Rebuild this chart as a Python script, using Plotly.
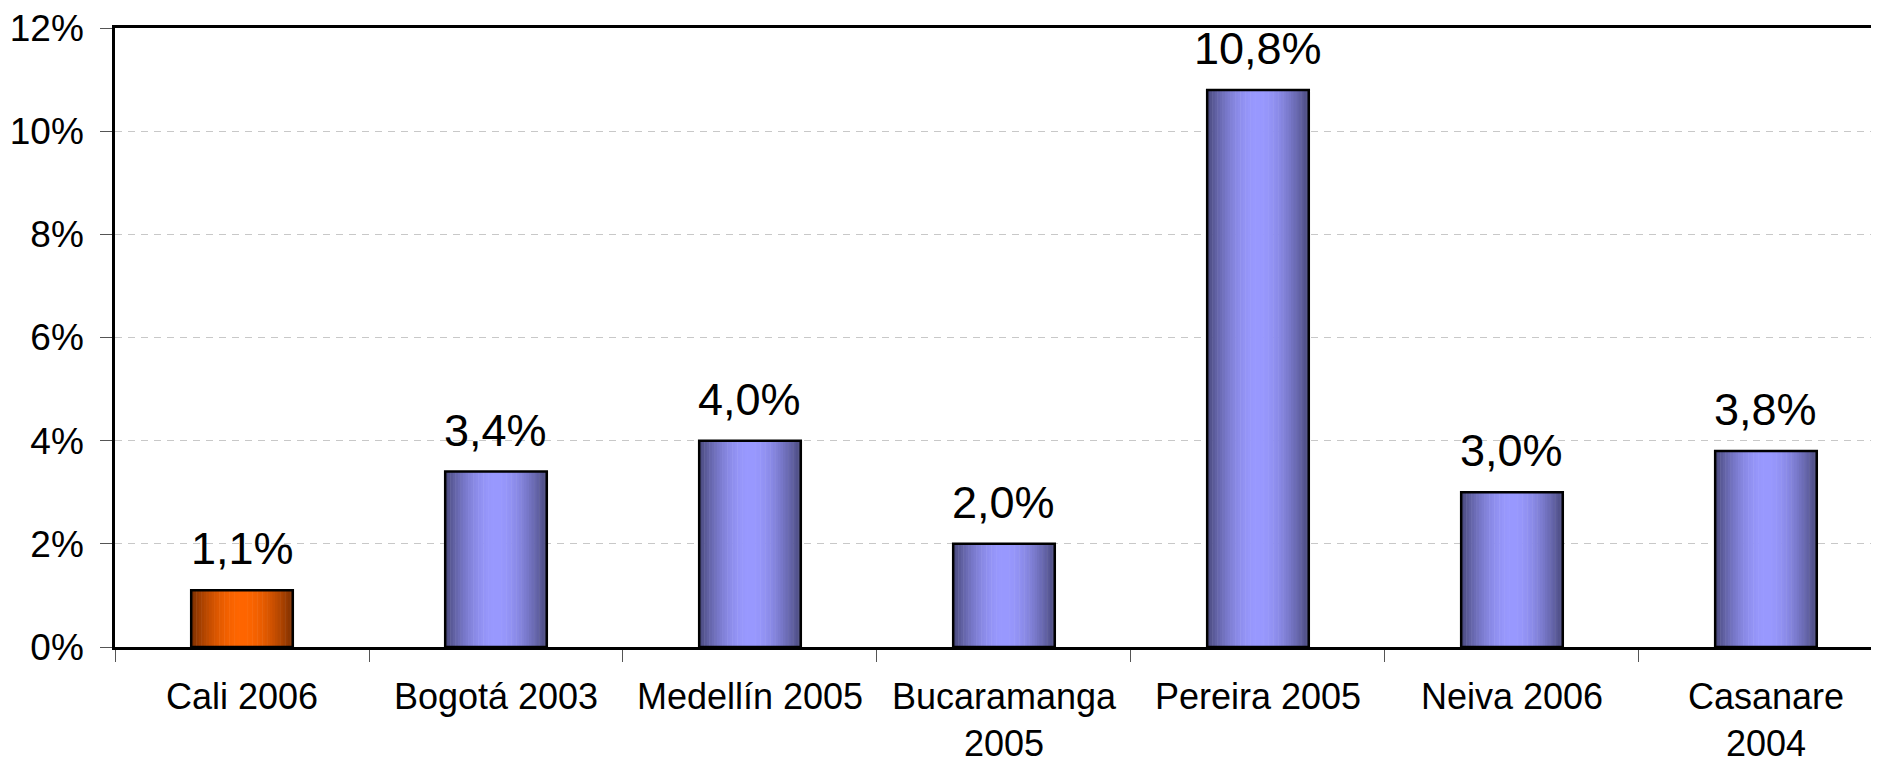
import math
import plotly.graph_objects as go

categories = ["Cali 2006", "Bogotá 2003", "Medellín 2005", "Bucaramanga<br>2005",
              "Pereira 2005", "Neiva 2006", "Casanare<br>2004"]
values = [1.1, 3.4, 4.0, 2.0, 10.8, 3.0, 3.8]
highlight = [True, False, False, False, False, False, False]
y_ticks = [0, 2, 4, 6, 8, 10, 12]
y_tick_labels = [f"{v}%" for v in y_ticks]

BAR_W = 0.4
N_STRIPS = 40
FONT = "Liberation Sans, Arial, sans-serif"

# dark edge / light centre of the cylinder-like shading
blue_dark, blue_light = (72, 72, 122), (153, 153, 255)
orng_dark, orng_light = (122, 46, 0), (255, 102, 0)


def shade(dark, light, t):
    f = math.sin(math.pi * t) ** 0.9
    r, g, b = (int(d + (l - d) * f) for d, l in zip(dark, light))
    return f"rgb({r},{g},{b})"


fig = go.Figure()

# gradient strips
for i in range(N_STRIPS):
    t = (i + 0.5) / N_STRIPS
    colors = [shade(orng_dark, orng_light, t) if h else shade(blue_dark, blue_light, t)
              for h in highlight]
    fig.add_trace(go.Bar(
        x=categories, y=values,
        width=BAR_W / N_STRIPS + 0.002,
        offset=-BAR_W / 2 + i * BAR_W / N_STRIPS,
        marker_color=colors, marker_line_width=0,
        showlegend=False, hoverinfo="skip",
    ))

# outline
fig.add_trace(go.Bar(
    x=categories, y=values, width=BAR_W, offset=-BAR_W / 2,
    marker_color="rgba(0,0,0,0)",
    marker_line=dict(color="black", width=2.5),
    showlegend=False,
))

for c, v in zip(categories, values):
    fig.add_annotation(
        x=c, y=v, text=f"{v:.1f}%".replace(".", ","),
        showarrow=False, yanchor="bottom", yshift=14,
        font=dict(size=45, color="black", family=FONT),
    )

# page body has an 8px margin, so the figure is a bit smaller than the window
fig.update_layout(
    width=1871, height=751,
    margin=dict(l=107, r=0, t=20, b=112),
    barmode="overlay",
    plot_bgcolor="white", paper_bgcolor="white",
    font=dict(family=FONT, size=37, color="black"),
    xaxis=dict(
        range=[-0.5, 6.445], automargin=False,
        showline=True, linecolor="black", linewidth=2.5, mirror=True,
        ticks="outside", tickson="boundaries", ticklen=12, tickcolor="#555", tickwidth=1,
        ticklabelstandoff=16, ticklabeloverflow="allow",
        showgrid=False,
        tickfont=dict(size=36),
    ),
    yaxis=dict(
        range=[0, 12], tickvals=y_ticks, ticktext=y_tick_labels, automargin=False,
        showline=True, linecolor="black", linewidth=2.5,
        ticks="outside", ticklen=12, tickcolor="#555", tickwidth=1,
        ticklabelstandoff=9, ticklabeloverflow="allow",
        showgrid=True, gridcolor="#c8c8c8", gridwidth=1, griddash="7px,6px",
        zeroline=False,
    ),
)

fig.write_html("out.html")
